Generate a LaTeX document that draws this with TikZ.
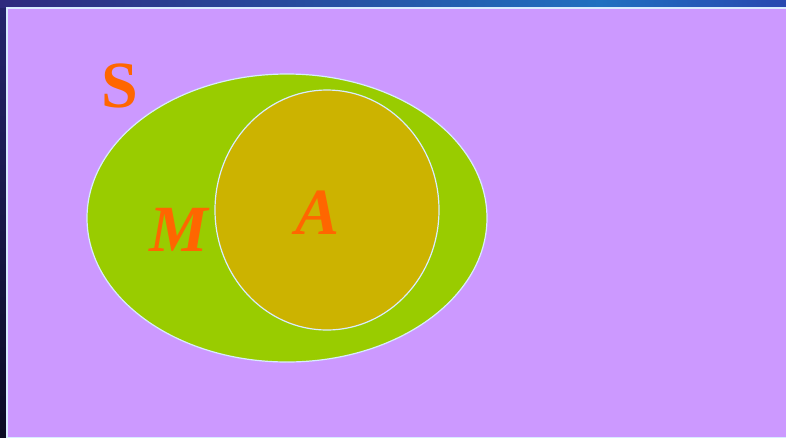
\documentclass[tikz,border=0pt]{standalone}
\usepackage{fontspec}
\setmainfont{Liberation Serif}
\definecolor{bgpurple}{HTML}{CC99FF}
\definecolor{setgreen}{HTML}{99CC00}
\definecolor{setgold}{HTML}{CCB300}
\definecolor{letter}{HTML}{FF6600}
\definecolor{edge}{HTML}{D8ECFF}
\definecolor{barleft}{HTML}{2E2A7E}
\definecolor{barmid}{HTML}{2070C0}
\definecolor{barright}{HTML}{2848B0}
\definecolor{sidetop}{HTML}{24246C}
\definecolor{sidebot}{HTML}{0A0A22}
\tikzset{lbl/.style={text=letter,font=\fontsize{66}{66}\selectfont\bfseries\itshape,inner sep=0pt}}
\begin{document}
\begin{tikzpicture}[x=1pt,y=-1pt]
\useasboundingbox (0,0) rectangle (786,437);
\shade[left color=barleft,right color=barmid] (0,0) rectangle (600,8);
\shade[left color=barmid,right color=barright] (600,0) rectangle (786,8);
\shade[top color=sidetop,bottom color=sidebot] (0,8) rectangle (7,437);
\filldraw[fill=bgpurple,draw=edge,line width=1.2pt] (7,8) rectangle (787,438);
\filldraw[fill=setgreen,draw=edge,line width=1.2pt] (287,218) ellipse [x radius=200,y radius=144];
\filldraw[fill=setgold,draw=edge,line width=1.2pt] (327,210) ellipse [x radius=112,y radius=120];
\node[lbl,font=\fontsize{66}{66}\selectfont\bfseries] (s) at (120,86) {S};
\node[lbl] (m) at (179,230) {M};
\node[lbl] (a) at (318,213) {A};
\end{tikzpicture}
\end{document}
